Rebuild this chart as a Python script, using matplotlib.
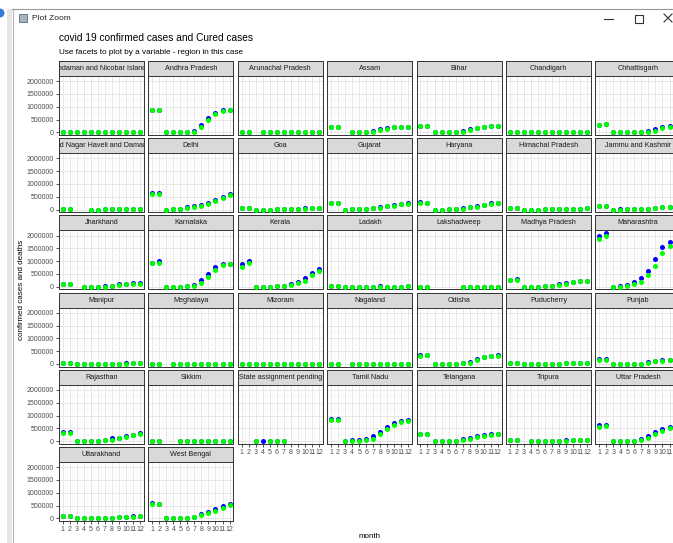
import numpy as np
import matplotlib
matplotlib.use("Agg")
import matplotlib.pyplot as plt
from matplotlib.ticker import MultipleLocator, FixedLocator, FixedFormatter
from matplotlib.patches import Rectangle, Circle

plt.rcParams['font.family'] = ['Liberation Sans', 'DejaVu Sans']

n = np.nan
months = list(range(1, 13))

states = [
    "Andaman and Nicobar Islands", "Andhra Pradesh", "Arunachal Pradesh", "Assam", "Bihar",
    "Chandigarh", "Chhattisgarh",
    "Dadra and Nagar Haveli and Daman and Diu", "Delhi", "Goa", "Gujarat", "Haryana",
    "Himachal Pradesh", "Jammu and Kashmir",
    "Jharkhand", "Karnataka", "Kerala", "Ladakh", "Lakshadweep", "Madhya Pradesh", "Maharashtra",
    "Manipur", "Meghalaya", "Mizoram", "Nagaland", "Odisha", "Puducherry", "Punjab",
    "Rajasthan", "Sikkim", "State assignment pending", "Tamil Nadu", "Telangana", "Tripura",
    "Uttar Pradesh",
    "Uttarakhand", "West Bengal",
]

# values in thousands, month 1..12
confirmed_k = [
    [5.0, 5.0, 0.01, 0.03, 0.03, 0.09, 0.4, 2.9, 3.8, 4.3, 4.6, 4.9],
    [886, 889, 0.04, 1.4, 3.5, 13, 40, 290, 570, 770, 860, 881],
    [16.8, 16.8, n, 0.001, 0.003, 0.2, 1.3, 4, 9, 14, 16, 16.7],
    [217, 217.5, n, 0.04, 1.3, 8, 55, 120, 170, 225, 212, 216],
    [259, 262, 0.02, 0.4, 3.8, 10, 45, 135, 185, 215, 235, 252],
    [25, 21, 0.008, 0.09, 0.29, 0.44, 1.1, 4, 11, 14, 17, 19.5],
    [300, 330, 0.01, 0.04, 0.4, 2.8, 9, 32, 110, 195, 245, 275],
    [3.4, 3.4, n, n, 0.002, 0.2, 1.2, 2.3, 3, 3.2, 3.3, 3.4],
    [632, 637, 0.1, 3.5, 20, 87, 135, 175, 265, 370, 500, 615],
    [53, 55, 0.005, 0.007, 0.07, 1.3, 5.3, 17, 33, 43, 47, 51],
    [258, 267, 0.07, 4.4, 16, 32, 62, 95, 140, 172, 215, 244],
    [300, 272, 0.03, 0.35, 2.1, 15, 40, 110, 150, 190, 238, 262],
    [57, 58, 0.003, 0.04, 0.3, 0.95, 2.3, 5.5, 14, 21, 38, 55],
    [123, 126, 0.06, 0.6, 2.4, 7.5, 20, 36, 77, 93, 110, 120],
    [118, 119, n, 0.1, 0.6, 2.5, 12, 38, 95, 108, 135, 130],
    [940, 990, 0.1, 0.6, 3, 40, 80, 260, 500, 770, 870, 905],
    [870, 1010, 0.24, 0.5, 1.2, 45, 45, 100, 190, 330, 540, 700],
    [9.6, 9.8, 0.01, 0.02, 0.07, 0.9, 1.4, 20, 4.4, 5.8, 8, 9.3],
    [0.1, 0.3, n, n, n, n, 0, 0, 0, 0, 0, 0],
    [255, 300, 0.05, 2.7, 8, 13, 30, 90, 150, 200, 220, 240],
    [1990, 2090, 0.3, 10, 65, 170, 330, 620, 1100, 1560, 1740, 1880],
    [29, 29, 0.001, 0.002, 0.06, 1.1, 2.5, 6, 11, 17, 24, 28],
    [14, 14, n, 0.01, 0.03, 0.05, 0.7, 2.2, 5.3, 8.6, 11.5, 13.5],
    [4.4, 4.4, 0.001, 0.001, 0.02, 0.16, 0.37, 0.98, 1.8, 2.5, 3.8, 4.2],
    [12, 12.1, n, 0.001, 0.04, 0.45, 1.6, 3.8, 6.4, 9.3, 11.2, 11.9],
    [333, 336, 0.003, 0.14, 1.9, 6.6, 25, 70, 190, 280, 310, 329],
    [39, 39.5, 0.001, 0.05, 0.07, 0.7, 3, 14, 40, 35, 37, 38.5],
    [195, 190, 0.04, 0.5, 2.2, 5.5, 16, 70, 120, 135, 150, 165],
    [350, 340, 0.06, 2.6, 8.6, 17, 35, 110, 130, 215, 255, 330],
    [6.1, 6.1, n, n, 0.001, 0.09, 0.5, 1.5, 2.9, 3.9, 4.9, 5.8],
    [n, n, 0.5, 5, 3, 2, 1, n, n, n, n, n],
    [850, 860, 10, 25, 50, 90, 190, 350, 540, 700, 780, 820],
    [293, 297, 0.07, 1, 2.7, 16, 65, 130, 195, 240, 265, 285],
    [50, 50, n, 0.002, 0.3, 1.3, 4, 10, 24, 30, 32, 33],
    [630, 610, 0.1, 2.2, 8, 23, 100, 200, 340, 470, 545, 585],
    [95, 97, 0.007, 0.06, 0.9, 2.8, 7, 18, 48, 62, 75, 90],
    [600, 575, 0.03, 0.8, 5.5, 19, 70, 160, 250, 350, 470, 550],
]

cured_k = [
    [4.9, 4.95, 0, 0.01, 0.03, 0.05, 0.2, 2.3, 3.5, 4.1, 4.5, 4.8],
    [877, 885, 0, 0.3, 2.2, 5, 15, 200, 480, 700, 845, 870],
    [16.7, 16.7, n, 0.001, 0.001, 0.1, 0.6, 2.7, 7, 12, 15.5, 16.5],
    [213, 215, n, 0.03, 0.3, 5, 25, 75, 135, 195, 206, 211],
    [253, 258, 0, 0.1, 1.7, 7.5, 30, 105, 165, 208, 228, 247],
    [20, 20.5, 0, 0.02, 0.19, 0.38, 0.7, 2.5, 9, 13, 16, 18.5],
    [292, 320, 0, 0.02, 0.1, 2, 6, 15, 60, 160, 210, 260],
    [3.3, 3.35, n, n, 0, 0.05, 0.8, 2, 2.8, 3.1, 3.25, 3.3],
    [617, 623, 0.02, 1.1, 9, 55, 115, 155, 230, 330, 445, 575],
    [51, 53, 0, 0.007, 0.007, 0.6, 3.5, 13, 28, 39, 45, 49],
    [245, 258, 0.001, 0.6, 9, 23, 45, 76, 118, 155, 196, 230],
    [265, 266, 0, 0.06, 1, 10, 28, 85, 112, 160, 210, 255],
    [55, 57, 0, 0.02, 0.06, 0.6, 1.5, 3.8, 11, 18, 30, 48],
    [118, 122, 0, 0.2, 1, 5, 13, 26, 60, 82, 104, 115],
    [115, 117, n, 0.02, 0.3, 1.8, 5, 26, 75, 100, 110, 125],
    [930, 940, 0.02, 0.3, 1, 10, 40, 150, 380, 640, 850, 890],
    [780, 940, 0.03, 0.4, 0.6, 10, 35, 75, 140, 230, 450, 630],
    [9.4, 9.6, 0, 0.01, 0.04, 0.5, 1.1, 1.9, 3.3, 4.7, 7.5, 9],
    [0.05, 0.1, n, n, n, n, 0, 0, 0, 0, 0, 0],
    [248, 258, 0, 0.3, 4, 10, 22, 75, 115, 190, 210, 235],
    [1880, 1990, 0.04, 1.5, 20, 90, 190, 440, 820, 1330, 1600, 1780],
    [28, 28.5, 0, 0.002, 0.01, 0.4, 1.8, 4.5, 8.5, 13, 20, 26],
    [13.7, 13.8, n, 0, 0.01, 0.04, 0.3, 1.1, 3.5, 7.2, 10.8, 13],
    [4.3, 4.35, 0, 0.001, 0.001, 0.12, 0.2, 0.6, 1.3, 2.1, 3.3, 4.1],
    [11.7, 11.9, n, 0, 0, 0.2, 0.7, 2.5, 5, 7.9, 10.3, 11.5],
    [325, 332, 0, 0.04, 0.9, 4.8, 17, 45, 150, 255, 300, 320],
    [38, 38.8, 0, 0.006, 0.02, 0.4, 1.8, 9, 20, 31, 35.5, 37.5],
    [155, 155, 0, 0.1, 1.9, 3.9, 10, 40, 95, 125, 143, 157],
    [300, 330, 0.02, 0.9, 5, 13, 28, 60, 125, 165, 220, 280],
    [5.9, 5.95, n, n, 0, 0.05, 0.2, 1, 2.2, 3.3, 4.4, 5.4],
    [n, n, 0, n, 0, 0, 0, n, n, n, n, n],
    [810, 820, 5, 13, 13, 40, 100, 270, 460, 630, 730, 780],
    [288, 294, 0.001, 0.5, 1.5, 7, 45, 100, 150, 210, 258, 280],
    [33, 33, n, 0.002, 0.17, 1, 2.7, 7, 18, 28, 31.5, 32.5],
    [570, 600, 0.02, 0.5, 5, 15, 60, 130, 270, 410, 520, 560],
    [88, 93, 0, 0.04, 0.3, 2, 5, 12, 35, 55, 70, 83],
    [550, 560, 0, 0.14, 1.9, 12, 40, 115, 210, 300, 400, 520],
]

yticks = [0, 500000, 1000000, 1500000, 2000000]
ytick_labels = ["0", "500000", "1000000", "1500000", "2000000"]

W, H = 673, 543
fig = plt.figure(figsize=(W / 100, H / 100), dpi=100)
fig.patch.set_facecolor("white")


def frac(x, y, w, h):
    return [x / W, 1 - (y + h) / H, w / W, h / H]


# window chrome drawn in pixel coords
bg = fig.add_axes([0, 0, 1, 1], zorder=-5)
bg.set_xlim(0, W)
bg.set_ylim(H, 0)
bg.axis("off")
bg.add_patch(Rectangle((7, 9), 5, H, facecolor="#E6E6E6", edgecolor="none"))
bg.plot([12.5, 12.5], [9, H], color="#B4B4B4", lw=0.8)
bg.plot([12, W], [9, 9], color="#9A9A9A", lw=0.8)
bg.add_patch(Circle((0, 13), 4.5, facecolor="#3A78D6", edgecolor="none"))
bg.add_patch(Rectangle((19, 14), 8, 8, facecolor="#A7B3C0", edgecolor="#5E6E80", lw=0.6))
bg.text(32, 18.5, "Plot Zoom", fontsize=6, va="center", ha="left", color="#222222")
bg.plot([604, 613], [18.5, 18.5], color="#333333", lw=0.8)
bg.add_patch(Rectangle((634.5, 14.5), 8, 8, facecolor="none", edgecolor="#333333", lw=0.8))
bg.plot([664, 672], [14, 22], color="#333333", lw=0.8)
bg.plot([664, 672], [22, 14], color="#333333", lw=0.8)

bg.text(59, 38, "covid 19 confirmed cases and Cured cases", fontsize=7.3,
        va="center", ha="left", color="black")
bg.text(59, 52.5, "Use facets to plot by a variable - region in this case", fontsize=5.9,
        va="center", ha="left", color="black")
bg.text(22, 290, "confirmed cases and deaths", fontsize=5.8, rotation=90,
        va="center", ha="center", color="black")
bg.text(370, 536.5, "month", fontsize=5.8, va="center", ha="center", color="black")

left0, pitch_x, pw = 59, 89.4, 85
top0, pitch_y, strip_h, panel_h = 61, 77.2, 15, 59
ncol = 7
nstates = len(states)

for i, name in enumerate(states):
    r, c = divmod(i, ncol)
    x0 = left0 + c * pitch_x
    y0 = top0 + r * pitch_y

    sax = fig.add_axes(frac(x0, y0, pw, strip_h))
    sax.set_facecolor("#D9D9D9")
    sax.set_xticks([])
    sax.set_yticks([])
    for sp in sax.spines.values():
        sp.set_color("#333333")
        sp.set_linewidth(0.7)
    sax.text(0.5, 0.5, name, transform=sax.transAxes, ha="center", va="center",
             fontsize=5.2, color="#1A1A1A", clip_on=True)

    ax = fig.add_axes(frac(x0, y0 + strip_h, pw, panel_h))
    ax.set_facecolor("white")
    conf = np.array(confirmed_k[i], dtype=float) * 1000
    cur = np.array(cured_k[i], dtype=float) * 1000
    ax.scatter(months, conf, s=13, color="#0000FF", linewidths=0, zorder=3)
    ax.scatter(months, cur, s=13, color="#00FF00", linewidths=0, zorder=4)

    ax.set_xlim(0.45, 12.55)
    ax.set_ylim(-105000, 2200000)
    ax.xaxis.set_major_locator(FixedLocator(months))
    ax.xaxis.set_minor_locator(MultipleLocator(0.5))
    ax.yaxis.set_major_locator(FixedLocator(yticks))
    ax.yaxis.set_minor_locator(MultipleLocator(250000))
    ax.grid(which="major", color="#E3E3E3", lw=0.6, zorder=0)
    ax.grid(which="minor", color="#F0F0F0", lw=0.35, zorder=0)
    ax.set_axisbelow(True)
    for sp in ax.spines.values():
        sp.set_color("#333333")
        sp.set_linewidth(0.7)
    ax.tick_params(which="minor", length=0)
    ax.tick_params(which="major", color="#333333", width=0.6, length=2.5,
                   labelsize=5, labelcolor="#4D4D4D", pad=1.2)

    if c == 0:
        ax.yaxis.set_major_formatter(FixedFormatter(ytick_labels))
    else:
        ax.tick_params(axis="y", length=0, labelleft=False)

    bottom_of_col = (r == (nstates - 1) // ncol) or (i + ncol >= nstates)
    if bottom_of_col:
        labels = [str(m) for m in months]
        if c == ncol - 1:
            # the right-most panel runs past the window edge
            labels[-1] = ""
        ax.set_xticklabels(labels)
    else:
        ax.tick_params(axis="x", length=0, labelbottom=False)

fig.savefig("out.png", dpi=100, facecolor="white")
